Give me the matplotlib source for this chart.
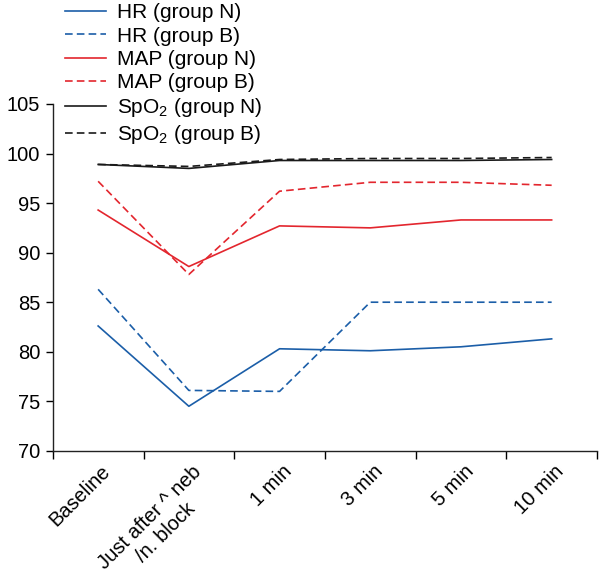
import matplotlib
matplotlib.use('Agg')
import matplotlib.pyplot as plt
import matplotlib.transforms as mtransforms

plt.rcParams['font.family'] = ['Liberation Sans', 'DejaVu Sans']
plt.rcParams['mathtext.fontset'] = 'custom'
plt.rcParams['mathtext.rm'] = 'Liberation Sans'
plt.rcParams['lines.scale_dashes'] = False

# Data
times = ['Baseline', 'Just after ^ neb\n/n. block', '1 min', '3 min', '5 min', '10 min']
hr_n = [82.6, 74.5, 80.3, 80.1, 80.5, 81.3]
hr_b = [86.3, 76.1, 76.0, 85.0, 85.0, 85.0]
map_n = [94.3, 88.6, 92.7, 92.5, 93.3, 93.3]
map_b = [97.2, 87.8, 96.2, 97.1, 97.1, 96.8]
spo2_n = [98.9, 98.5, 99.3, 99.3, 99.3, 99.4]
spo2_b = [98.9, 98.7, 99.4, 99.5, 99.5, 99.6]

blue = '#1b5ea8'
red = '#e3262e'
black = '#1a1a1a'
lw = 1.2
dash = (5.5, 3)

fig = plt.figure(figsize=(6, 5.81), dpi=100)
ax = fig.add_axes([0.088, 0.224, 0.907, 0.597])

x = list(range(len(times)))
ax.plot(x, hr_n, color=blue, lw=lw, label='HR (group N)')
ax.plot(x, hr_b, color=blue, lw=lw, ls=(0, dash), label='HR (group B)')
ax.plot(x, map_n, color=red, lw=lw, label='MAP (group N)')
ax.plot(x, map_b, color=red, lw=lw, ls=(0, dash), label='MAP (group B)')
ax.plot(x, spo2_n, color=black, lw=lw, label=r'SpO$_\mathregular{2}$ (group N)')
ax.plot(x, spo2_b, color=black, lw=lw, ls=(0, dash), label=r'SpO$_\mathregular{2}$ (group B)')

ax.set_xlim(-0.5, len(times) - 0.5)
ax.set_ylim(70, 105)
ax.set_yticks([70, 75, 80, 85, 90, 95, 100, 105])

# ticks at category boundaries, labels at category centres
ax.set_xticks([i - 0.5 for i in range(len(times) + 1)])
ax.set_xticklabels([])
ax.set_xticks(x, minor=True)
ax.set_xticklabels(times, minor=True, rotation=45, ha='right', va='top',
                   rotation_mode='anchor', multialignment='center')
ax.tick_params(axis='x', which='minor', length=0, pad=8, labelsize=14.5)
ax.tick_params(axis='x', which='major', direction='out', length=6, width=1)
ax.tick_params(axis='y', direction='out', length=5, width=1, labelsize=14.5, pad=4)
offset = mtransforms.ScaledTranslation(2 / 72, 0, fig.dpi_scale_trans)
for lab in ax.xaxis.get_minorticklabels():
    lab.set_transform(lab.get_transform() + offset)

for s in ['top', 'right']:
    ax.spines[s].set_visible(False)
for s in ['left', 'bottom']:
    ax.spines[s].set_linewidth(1)
    ax.spines[s].set_color('#222222')

fig.legend(loc='upper left', bbox_to_anchor=(0.108, 0.994), frameon=False,
           fontsize=15, handlelength=2.0, handletextpad=0.5,
           labelspacing=0.2, borderpad=0, borderaxespad=0)

fig.savefig('out.png', dpi=100)
